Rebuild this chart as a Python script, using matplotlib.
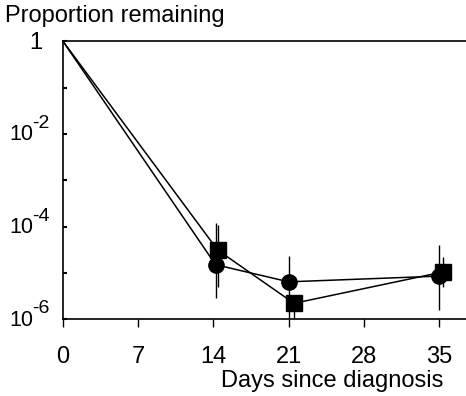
import numpy as np
import matplotlib.pyplot as plt
from matplotlib.transforms import offset_copy

plt.rcParams['font.family'] = ['Liberation Sans', 'DejaVu Sans']

# данные
days_circ = [0, 14.2, 21.0, 35.0]
prop_circ = [1.0, 1.5e-5, 6.4e-6, 8.5e-6]
err_lo_circ = [1.0, 2.8e-6, 8e-7, 1.6e-6]
err_hi_circ = [1.0, 1.2e-4, 2.3e-5, 4.0e-5]

days_sq = [0, 14.4, 21.5, 35.4]
prop_sq = [1.0, 3.1e-5, 2.2e-6, 1.05e-5]
err_lo_sq = [1.0, 5e-6, 8e-7, 5e-6]
err_hi_sq = [1.0, 1.1e-4, 2.2e-6, 2.2e-5]

xticks = [0, 7, 14, 21, 28, 35]
yticks = [1e-2, 1e-4, 1e-6]
yexps = ['-2', '-4', '-6']

fig = plt.figure(figsize=(4.66, 3.96), dpi=100)
ax = fig.add_axes([0.135, 0.194, 0.865, 0.702])

# вертикальные "усы"
ax.vlines(days_circ, err_lo_circ, err_hi_circ, color='black', lw=1)
ax.vlines(days_sq, err_lo_sq, err_hi_sq, color='black', lw=1)

# в точке 0 маркеров нет
ax.plot(days_circ, prop_circ, '-o', color='black', lw=1.1, markersize=11,
        markevery=[1, 2, 3], clip_on=False)
ax.plot(days_sq, prop_sq, '-s', color='black', lw=1.1, markersize=11,
        markevery=[1, 2, 3], clip_on=False)

ax.set_yscale('log')
ax.set_ylim(1e-6, 1)
ax.set_xlim(0, 37.5)
ax.set_yticks([1] + yticks)
ax.set_yticklabels([])
ax.set_yticks([1e-1, 1e-3, 1e-5], minor=True)
ax.yaxis.set_minor_formatter(plt.NullFormatter())
ax.tick_params(axis='y', which='both', direction='in', length=3, width=1.5)
ax.set_xticks(xticks)
ax.set_xticklabels([str(t) for t in xticks], fontsize=17)
ax.tick_params(axis='x', direction='out', length=6, width=1, pad=13)

# подписи оси y: "10" и крупный показатель степени
ytr = ax.get_yaxis_transform()
ax.text(0, 1, '1', fontsize=17, ha='right', va='center',
        transform=offset_copy(ytr, fig, x=-21, y=-2, units='dots'))
for yv, e in zip(yticks, yexps):
    ax.text(0, yv, '10', fontsize=15.5, ha='right', va='center',
            transform=offset_copy(ytr, fig, x=-30, y=-1, units='dots'))
    ax.text(0, yv, e, fontsize=14, ha='left', va='baseline',
            transform=offset_copy(ytr, fig, x=-31, y=6, units='dots'))

ax.spines['right'].set_visible(False)
for s in ['left', 'bottom', 'top']:
    ax.spines[s].set_linewidth(1.2)

fig.text(0.01, 0.932, 'Proportion remaining', fontsize=17, ha='left', va='bottom')
fig.text(0.951, 0.01, 'Days since diagnosis', fontsize=17, ha='right', va='bottom')

fig.savefig('out.png', dpi=100)
